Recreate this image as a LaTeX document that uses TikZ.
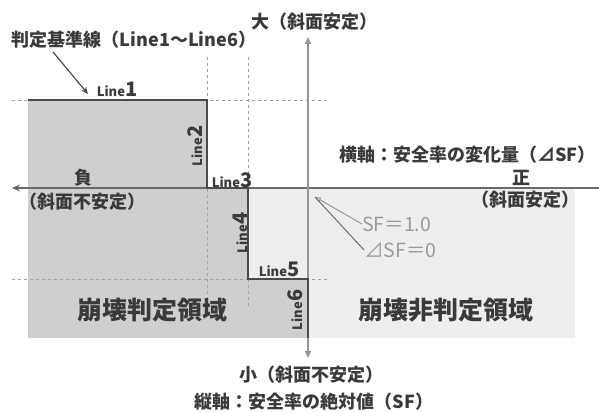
\documentclass[tikz,border=0pt]{standalone}
\usepackage{fontspec}
\setmainfont{Noto Sans CJK JP}
\usetikzlibrary{arrows.meta}
\definecolor{darkreg}{HTML}{CFCFD1}
\definecolor{lightreg}{HTML}{EEEEF0}
\definecolor{txt}{HTML}{3A3A3A}
\definecolor{haxis}{HTML}{6A6A6A}
\definecolor{vaxis}{HTML}{959595}
\definecolor{linec}{HTML}{4A4A4A}
\definecolor{dashc}{HTML}{A0A0A0}
\definecolor{sfc}{HTML}{9A9A9A}
\newcommand{\LL}[1]{{\bfseries\fontsize{13}{13}\selectfont Line}{\bfseries\fontsize{20}{20}\selectfont #1}}
\begin{document}
\begin{tikzpicture}[x=1pt,y=-1pt,
  lbl/.style={font=\bfseries\fontsize{18}{18}\selectfont, text=txt, inner sep=0pt},
  big/.style={font=\bfseries\fontsize{25}{25}\selectfont, text=txt, inner sep=0pt},
  sf/.style={font=\fontsize{19.5}{19.5}\selectfont, text=sfc, inner sep=0pt, anchor=west},
  linelbl/.style={text=txt, inner sep=0pt},
  dashline/.style={dashc, dash pattern=on 3pt off 3pt, line width=0.8pt},
  crit/.style={linec, line width=2.2pt}]
\useasboundingbox (0,0) rectangle (599,412);
\fill[white] (0,0) rectangle (599,412);
% regions
\fill[lightreg] (248,188) rectangle (575,338);
\fill[darkreg] (28,100) -- (207,100) -- (207,188) -- (248,188) -- (248,279) -- (308,279) -- (308,338) -- (28,338) -- cycle;
% dashed guides
\draw[dashline] (12,100) -- (326,100);
\draw[dashline] (12,279) -- (327,279);
\draw[dashline] (207,57) -- (207,308);
\draw[dashline] (248,57) -- (248,308);
% axes
\coordinate (hR) at (599,188);
\coordinate (hL) at (12,188);
\coordinate (vT) at (308,37);
\coordinate (vB) at (308,358);
\draw[haxis, line width=1.6pt, -{Stealth[length=8pt,width=7pt]}] (hR) -- (hL);
\draw[vaxis, line width=1.4pt, {Triangle[length=7pt,width=6pt]}-{Triangle[length=7pt,width=6pt]}] (vT) -- (vB);
% criterion line
\coordinate (p1) at (28,100);
\coordinate (p2) at (207,100);
\coordinate (p3) at (207,188);
\coordinate (p4) at (248,188);
\coordinate (p5) at (248,279);
\coordinate (p6) at (308,279);
\coordinate (p7) at (308,338);
\draw[crit, line join=miter] (p1) -- (p2) -- (p3) -- (p4) -- (p5) -- (p6) -- (p7);
% line labels
\node[linelbl] (l1) at (117,89) {\LL{1}};
\node[linelbl, rotate=90] (l2) at (195,146) {\LL{2}};
\node[linelbl] (l3) at (232,180) {\LL{3}};
\node[linelbl, rotate=90] (l4) at (240,233) {\LL{4}};
\node[linelbl] (l5) at (279,269) {\LL{5}};
\node[linelbl, rotate=90] (l6) at (295,310) {\LL{6}};
% title and pointer
\node[lbl] (title) at (134,40) {判定基準線（Line1～Line6）};
\coordinate (tA) at (53,52);
\coordinate (tB) at (88,94);
\draw[linec, line width=1.2pt, -{Stealth[length=7pt,width=6pt]}] (tA) -- (tB);
% axis labels
\node[lbl] (big) at (314,22) {大（斜面安定）};
\node[lbl] (small) at (311,375) {小（斜面不安定）};
\node[lbl] (vlab) at (314,402) {縦軸：安全率の絶対値（SF）};
\node[lbl, anchor=east] (hlab) at (596,155) {横軸：安全率の変化量（⊿SF）};
\node[lbl] (pos) at (521,178) {正};
\node[lbl] (posd) at (525,200) {（斜面安定）};
\node[lbl] (neg) at (83,178) {負};
\node[lbl] (negd) at (82,202) {（斜面不安定）};
% regions labels
\node[big] (reg1) at (152,310) {崩壊判定領域};
\node[big] (reg2) at (446,310) {崩壊非判定領域};
% SF pointer
\node[sf] (sf1) at (362,224) {SF＝1.0};
\node[sf] (sf2) at (364,250) {⊿SF＝0};
\coordinate (origin) at (315,197);
\draw[sfc, line width=1pt, -{Triangle[open,length=6pt,width=5pt]}] (sf1.west) -- (origin);
\draw[linec!80, line width=1pt] (sf2.west) -- (origin);
\end{tikzpicture}
\end{document}
